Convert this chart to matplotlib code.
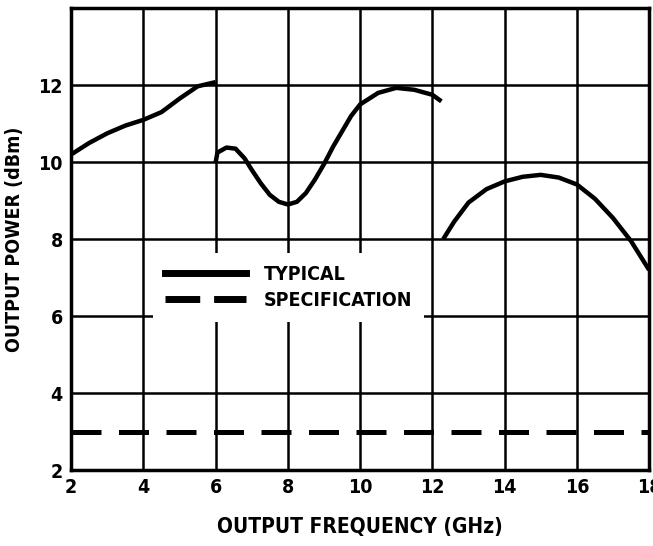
import matplotlib
matplotlib.use("Agg")
import matplotlib.pyplot as plt
from matplotlib.lines import Line2D

plt.rcParams['font.family'] = ['DejaVu Sans']
plt.rcParams['font.stretch'] = 'condensed'
plt.rcParams['font.weight'] = 'bold'

# typical output power, three band segments (GHz, dBm)
band1_freq = [2.0, 2.5, 3.0, 3.5, 4.0, 4.5, 5.0, 5.5, 6.0]
band1_power = [10.2, 10.5, 10.75, 10.95, 11.1, 11.3, 11.65, 11.97, 12.08]

band2_freq = [6.0, 6.05, 6.3, 6.55, 6.8, 7.0, 7.25, 7.5, 7.75, 8.0, 8.25, 8.5,
              8.75, 9.0, 9.25, 9.5, 9.75, 10.0, 10.5, 11.0, 11.5, 12.0, 12.25]
band2_power = [10.0, 10.25, 10.38, 10.35, 10.1, 9.8, 9.45, 9.15, 8.97, 8.9, 8.97, 9.2,
               9.55, 9.95, 10.4, 10.8, 11.2, 11.5, 11.8, 11.93, 11.88, 11.75, 11.58]

band3_freq = [12.3, 12.6, 13.0, 13.5, 14.0, 14.5, 15.0, 15.5, 16.0, 16.5, 17.0, 17.5, 18.0]
band3_power = [8.0, 8.45, 8.95, 9.3, 9.5, 9.62, 9.67, 9.6, 9.42, 9.05, 8.55, 7.95, 7.2]

# minimum specified output power
spec_freq = [2, 18]
spec_power = [3, 3]

x_ticks = [2, 4, 6, 8, 10, 12, 14, 16, 18]
y_ticks = [2, 4, 6, 8, 10, 12]

fig = plt.figure(figsize=(6.53, 5.46), dpi=100)
ax = fig.add_axes([0.109, 0.139, 0.885, 0.846])

ax.set_xlim(2, 18)
ax.set_ylim(2, 14)
ax.set_xticks(x_ticks)
ax.set_yticks(y_ticks)
ax.tick_params(length=0, labelsize=14, pad=6)
ax.grid(True, color='black', linewidth=1.8)
ax.set_axisbelow(True)
for sp in ax.spines.values():
    sp.set_linewidth(2.5)

for f, p in [(band1_freq, band1_power), (band2_freq, band2_power), (band3_freq, band3_power)]:
    ax.plot(f, p, color='black', linewidth=3.2, solid_capstyle='butt', clip_on=False)

ax.plot(spec_freq, spec_power, color='black', linewidth=3.6, linestyle=(0, (6, 3.5)))

handles = [Line2D([], [], color='black', linewidth=5),
           Line2D([], [], color='black', linewidth=5, linestyle=(0, (5, 2)))]
leg = ax.legend(handles, ['TYPICAL', 'SPECIFICATION'], loc='upper left',
                bbox_to_anchor=(0.125, 0.49), fontsize=14, handlelength=4.2,
                handletextpad=0.9, labelspacing=0.35, borderpad=0.6,
                frameon=True, fancybox=False, framealpha=1.0)
leg.get_frame().set_edgecolor('none')
leg.get_frame().set_facecolor('white')

ax.set_xlabel('OUTPUT FREQUENCY (GHz)', fontsize=15, fontweight='bold', labelpad=14)
ax.set_ylabel('OUTPUT POWER (dBm)', fontsize=14, fontweight='bold', labelpad=10)

fig.savefig('out.png', dpi=100)
